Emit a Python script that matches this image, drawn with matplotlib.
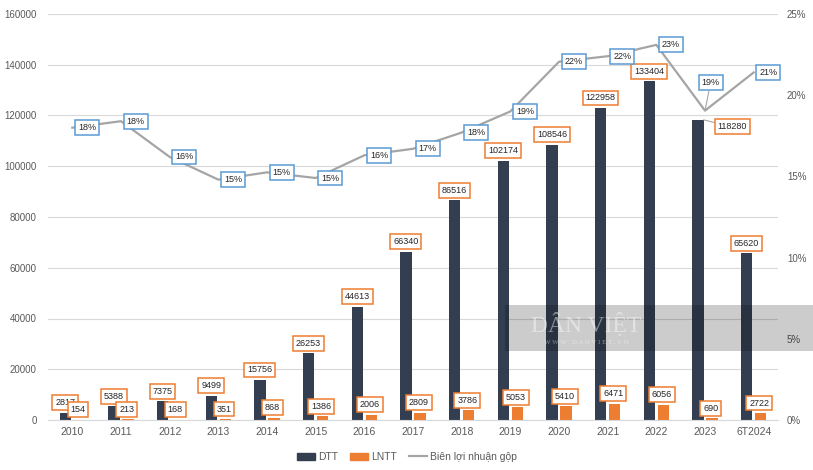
import matplotlib.pyplot as plt
from matplotlib.patches import Rectangle, Patch
from matplotlib.lines import Line2D

plt.rcParams['font.family'] = ['Liberation Sans', 'DejaVu Sans']

# du lieu doc tu bieu do
nam = ['2010', '2011', '2012', '2013', '2014', '2015', '2016', '2017',
       '2018', '2019', '2020', '2021', '2022', '2023', '6T2024']
dtt = [2817, 5388, 7375, 9499, 15756, 26253, 44613, 66340,
       86516, 102174, 108546, 122958, 133404, 118280, 65620]
lntt = [154, 213, 168, 351, 868, 1386, 2006, 2809,
        3786, 5053, 5410, 6471, 6056, 690, 2722]
bien_ln = [18.0, 18.4, 16.2, 14.8, 15.25, 14.9, 16.3, 16.7,
           17.7, 19.0, 22.06, 22.4, 23.1, 19.05, 21.4]

c_dtt = '#333F50'
c_lntt = '#ED7D31'
c_line = '#A5A5A5'
c_blue = '#5B9BD5'
c_txt = '#595959'
c_lbl = '#262626'

W, H = 813, 470
fig = plt.figure(figsize=(W / 100, H / 100), dpi=100)
ax = fig.add_axes([48 / W, 1 - 420 / H, (778 - 48) / W, (420 - 14) / H])
ax2 = ax.twinx()

x = list(range(len(nam)))
bw = 0.23
off = 0.145
ax.bar([i - off for i in x], dtt, width=bw, color=c_dtt, zorder=2)
ax.bar([i + off for i in x], lntt, width=bw, color=c_lntt, zorder=2)

ax.set_xlim(-0.5, len(nam) - 0.5)
ax.set_ylim(0, 160000)
ax.set_yticks(range(0, 160001, 20000))
ax.set_xticks(x)
ax.set_xticklabels(nam)
ax.yaxis.grid(True, color='#D9D9D9', lw=0.8)
ax.set_axisbelow(True)
for s in ['top', 'left', 'right']:
    ax.spines[s].set_visible(False)
ax.spines['bottom'].set_color('#D9D9D9')
ax.tick_params(axis='y', length=0, pad=8, labelsize=7, labelcolor=c_txt)
ax.tick_params(axis='x', length=0, pad=5, labelsize=7.5, labelcolor=c_txt)

ax2.plot(x, bien_ln, color=c_line, lw=1.6, zorder=3)
ax2.set_ylim(0, 25)
ax2.set_yticks(range(0, 26, 5))
ax2.set_yticklabels([f'{v}%' for v in range(0, 26, 5)])
for s in ax2.spines.values():
    s.set_visible(False)
ax2.tick_params(axis='y', length=0, pad=6.5, labelsize=7, labelcolor=c_txt)


def box(ec):
    return dict(boxstyle='square,pad=0.32', fc='white', ec=ec, lw=1.1)


fs = 6.5

# nhan cot DTT
for i, v in enumerate(dtt):
    if nam[i] == '2023':
        ax.annotate(str(v), (i - off + bw / 2, v), xytext=(10, -5),
                    textcoords='offset points', ha='left', va='center',
                    fontsize=fs, color=c_lbl, bbox=box(c_lntt), zorder=5,
                    arrowprops=dict(arrowstyle='-', color=c_line, lw=0.8,
                                    shrinkA=0, shrinkB=0))
    else:
        ax.annotate(str(v), (i - off, v), xytext=(0, 4),
                    textcoords='offset points', ha='center', va='bottom',
                    fontsize=fs, color=c_lbl, bbox=box(c_lntt), zorder=5)

# nhan cot LNTT
for i, v in enumerate(lntt):
    ax.annotate(str(v), (i + off, v), xytext=(-1, 4),
                textcoords='offset points', ha='center', va='bottom',
                fontsize=fs, color=c_lbl, bbox=box(c_lntt), zorder=6)

# nhan bien loi nhuan
for i, v in enumerate(bien_ln):
    if nam[i] == '2023':
        ax2.annotate(f'{v:.0f}%', (i, v), xytext=(4, 20),
                     textcoords='offset points', ha='center', va='center',
                     fontsize=fs, color=c_lbl, bbox=box(c_blue), zorder=6,
                     arrowprops=dict(arrowstyle='-', color=c_line, lw=0.8,
                                     shrinkA=0, shrinkB=1))
    else:
        ax2.annotate(f'{v:.0f}%', (i, v), xytext=(4, 0),
                     textcoords='offset points', ha='left', va='center',
                     fontsize=fs, color=c_lbl, bbox=box(c_blue), zorder=6)

# chu giai
handles = [Patch(color=c_dtt, label='DTT'),
           Patch(color=c_lntt, label='LNTT'),
           Line2D([], [], color=c_line, lw=1.6, label='Biên lợi nhuận gộp')]
fig.legend(handles=handles, loc='center', bbox_to_anchor=(407 / W, 1 - 457 / H),
           ncol=3, frameon=False, fontsize=7.5, handlelength=1.7,
           handletextpad=0.3, columnspacing=1.2, labelcolor=c_txt)

# watermark
fig.add_artist(Rectangle((505 / W, 1 - 351 / H), (W - 505) / W, 46 / H,
                         transform=fig.transFigure, fc='black', alpha=0.2,
                         ec='none', zorder=10))
fig.text(586 / W, 1 - 325 / H, 'DÂN VIỆT', fontsize=17,
         family=['Liberation Serif', 'DejaVu Serif'], color='white',
         alpha=0.45, ha='center', va='center', zorder=11)
fig.text(586 / W, 1 - 343 / H, 'W W W . D A N V I E T . V N', fontsize=5,
         family=['Liberation Serif', 'DejaVu Serif'], color='white',
         alpha=0.45, ha='center', va='center', zorder=11)

fig.savefig('out.png', dpi=100)
